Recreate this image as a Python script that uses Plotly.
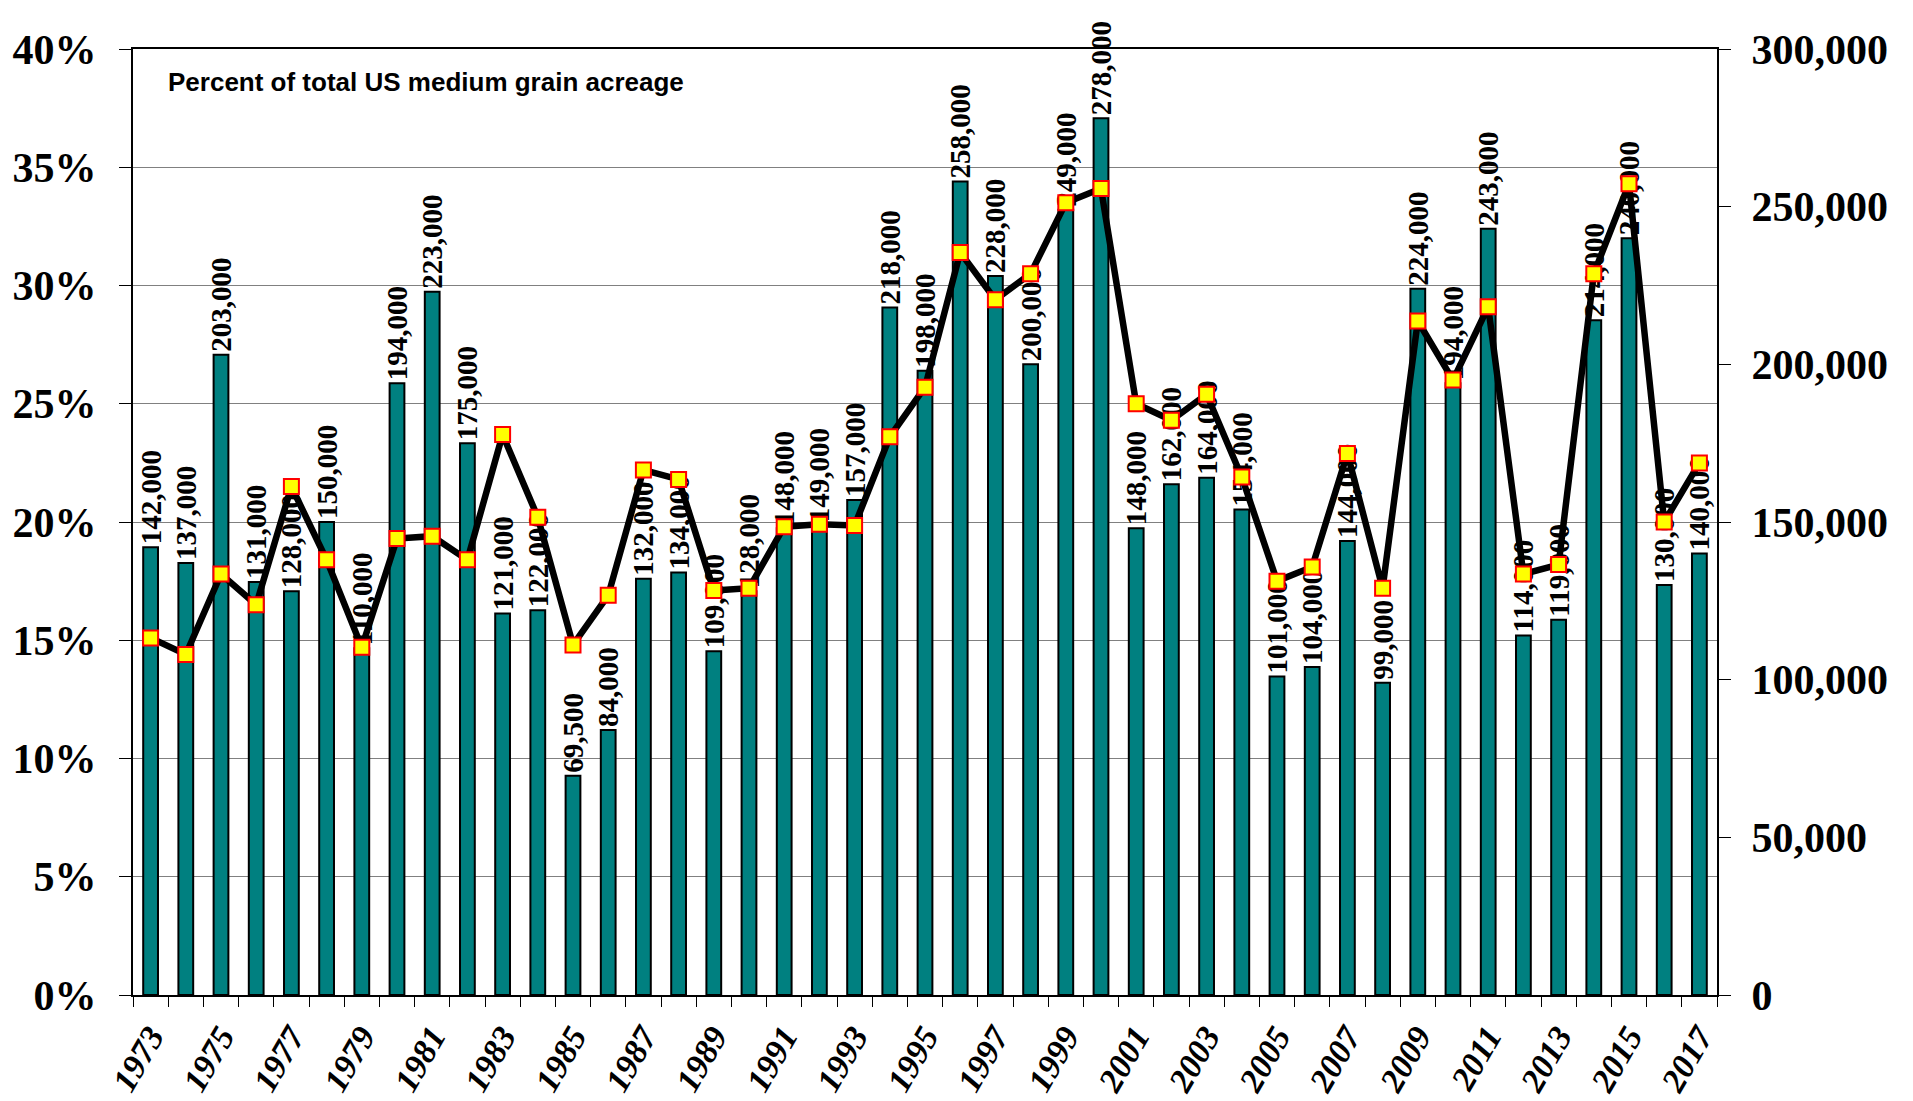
import plotly.graph_objects as go

years = list(range(1973, 2018))
acres = [142000, 137000, 203000, 131000, 128000, 150000, 110000, 194000, 223000, 175000,
         121000, 122000, 69500, 84000, 132000, 134000, 109000, 128000, 148000, 149000,
         157000, 218000, 198000, 258000, 228000, 200000, 249000, 278000, 148000, 162000,
         164000, 154000, 101000, 104000, 144000, 99000, 224000, 194000, 243000, 114000,
         119000, 214000, 240000, 130000, 140000]
pct = [15.1, 14.4, 17.8, 16.5, 21.5, 18.4, 14.7, 19.3, 19.4, 18.4,
       23.7, 20.2, 14.8, 16.9, 22.2, 21.8, 17.1, 17.2, 19.8, 19.9,
       19.85, 23.6, 25.7, 31.4, 29.4, 30.5, 33.5, 34.1, 25.0, 24.3,
       25.4, 21.9, 17.5, 18.1, 22.9, 17.2, 28.5, 26.0, 29.1, 17.8,
       18.2, 30.5, 34.3, 20.0, 22.5]
acre_labels = [f"{v:,}" for v in acres]
year_ticks = [y for y in years if y % 2 == 1]
right_ticks = [0, 50000, 100000, 150000, 200000, 250000, 300000]
right_ticktext = [f"{v:,}" for v in right_ticks]
pct_ticks = [0, 5, 10, 15, 20, 25, 30, 35, 40]
pct_ticktext = [f"{v}%" for v in pct_ticks]
title_text = "Percent of total US medium grain acreage"

SERIF = "Liberation Serif, Times New Roman, serif"

fig = go.Figure()
fig.add_trace(go.Bar(
    x=years, y=acres, yaxis="y",
    marker=dict(color="#008080", line=dict(color="black", width=2)),
    text=acre_labels, textposition="outside", textangle=-90,
    textfont=dict(family=SERIF, size=29, color="black", weight="bold"),
    cliponaxis=False, constraintext="none",
    width=0.42, showlegend=False,
))
fig.add_trace(go.Scatter(
    x=years, y=pct, yaxis="y2", mode="lines+markers",
    line=dict(color="black", width=6.5),
    marker=dict(symbol="square", size=15, color="#FFFF00",
                line=dict(color="#FF0000", width=2)),
    cliponaxis=False, showlegend=False,
))

fig.update_layout(
    width=1913, height=1101,
    margin=dict(l=133, r=196, t=49, b=106, autoexpand=False),
    paper_bgcolor="white", plot_bgcolor="white",
    xaxis=dict(
        range=[1972.5, 2017.5], automargin=False,
        tickmode="array", tickvals=year_ticks, ticktext=[str(y) for y in year_ticks],
        tickangle=-60, ticks="", ticklabelstandoff=6,
        tickfont=dict(family=SERIF, size=34, color="black", weight="bold", style="italic"),
        showline=True, linecolor="black", linewidth=2, mirror=True,
        showgrid=False, zeroline=False,
        minor=dict(tickmode="array", tickvals=[y - 0.5 for y in years] + [years[-1] + 0.5],
                   ticks="outside", ticklen=10, tickcolor="black", tickwidth=1, showgrid=False),
    ),
    yaxis=dict(
        side="right", range=[0, 300000], automargin=False,
        tickmode="array", tickvals=right_ticks, ticktext=right_ticktext,
        ticks="outside", ticklen=12, tickcolor="black", ticklabelstandoff=12,
        tickfont=dict(family=SERIF, size=42, color="black", weight="bold"),
        showline=True, linecolor="black", linewidth=2,
        showgrid=False, zeroline=False,
    ),
    yaxis2=dict(
        side="left", overlaying="y", range=[0, 40], automargin=False,
        tickmode="array", tickvals=pct_ticks, ticktext=pct_ticktext,
        ticks="outside", ticklen=12, tickcolor="black", ticklabelstandoff=14,
        tickfont=dict(family=SERIF, size=42, color="black", weight="bold"),
        showline=True, linecolor="black", linewidth=2,
        showgrid=True, gridcolor="#808080", gridwidth=1, zeroline=False,
    ),
    annotations=[dict(
        text=title_text, xref="paper", yref="paper", x=0.021, y=0.965,
        xanchor="left", yanchor="middle", showarrow=False,
        font=dict(family="Liberation Sans, Arial, sans-serif", size=26, color="black", weight="bold"),
    )],
)

fig.write_html("out.html", config={"displayModeBar": False},
               post_script="document.body.style.margin='0';")
